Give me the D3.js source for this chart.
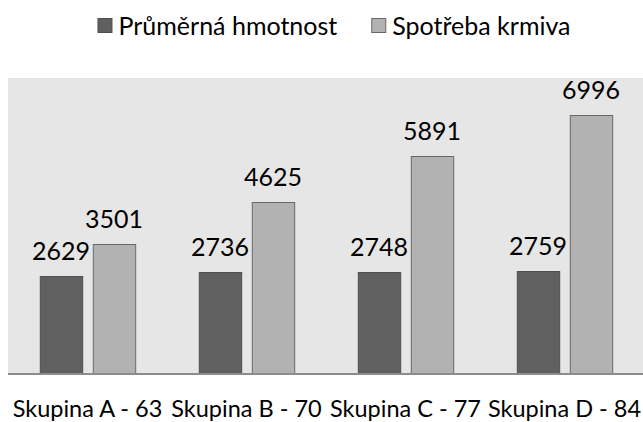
<!DOCTYPE html>
<html>
<head>
<meta charset="utf-8">
<script src="https://cdn.jsdelivr.net/npm/d3@7"></script>
<style>
  body { margin: 0; background: #fff; }
  text { font-family: Lato, "Open Sans", sans-serif; fill: #000; }
</style>
</head>
<body>
<div id="chart"></div>
<script>
const categories = ["Skupina A - 63", "Skupina B - 70", "Skupina C - 77", "Skupina D - 84"];
const seriesNames = ["Průměrná hmotnost", "Spotřeba krmiva"];
const hmotnost = [2629, 2736, 2748, 2759];
const krmivo = [3501, 4625, 5891, 6996];

const width = 643;
const height = 422;
const plot = { left: 8, right: 644, top: 78, bottom: 373 };
const colors = ["#606060", "#b2b2b2"];
const strokes = ["#4f4f4f", "#686868"];
const fontSize = 25;
const axisFontSize = 23.5;

const rows = categories.map((c, i) => ({ cat: c, values: [hmotnost[i], krmivo[i]] }));

const svg = d3.select("#chart").append("svg")
  .attr("width", width)
  .attr("height", height);

const x0 = d3.scaleBand()
  .domain(categories)
  .range([plot.left, plot.right])
  .paddingInner(0.4)
  .paddingOuter(0.2);

const x1 = d3.scaleBand()
  .domain([0, 1])
  .range([0, x0.bandwidth()])
  .paddingInner(0.2);

const y = d3.scaleLinear()
  .domain([0, 8000])
  .range([plot.bottom, plot.top]);

// plot background
svg.append("rect")
  .attr("x", plot.left)
  .attr("y", plot.top)
  .attr("width", plot.right - plot.left)
  .attr("height", plot.bottom - plot.top)
  .attr("fill", "#e6e6e6");

const group = svg.append("g")
  .selectAll("g")
  .data(rows)
  .join("g")
  .attr("transform", d => `translate(${x0(d.cat)},0)`);

group.selectAll("rect")
  .data(d => d.values.map((v, k) => ({ k, v })))
  .join("rect")
  .attr("x", d => x1(d.k) + 0.5)
  .attr("y", d => Math.round(y(d.v)) + 0.5)
  .attr("width", x1.bandwidth())
  .attr("height", d => plot.bottom - Math.round(y(d.v)))
  .attr("fill", d => colors[d.k])
  .attr("stroke", d => strokes[d.k])
  .attr("stroke-width", 1);

group.selectAll("text")
  .data(d => d.values.map((v, k) => ({ k, v })))
  .join("text")
  .attr("x", d => x1(d.k) + x1.bandwidth() / 2)
  .attr("y", d => y(d.v) - 16)
  .attr("text-anchor", "middle")
  .style("font-size", fontSize + "px")
  .text(d => d.v);

// x axis line
svg.append("line")
  .attr("x1", plot.left)
  .attr("x2", plot.right)
  .attr("y1", plot.bottom + 1)
  .attr("y2", plot.bottom + 1)
  .attr("stroke", "#8c8c8c")
  .attr("stroke-width", 2);

const xAxis = svg.append("g")
  .attr("transform", `translate(0,${plot.bottom})`)
  .call(d3.axisBottom(x0).tickSize(0).tickPadding(0));
xAxis.select(".domain").remove();
xAxis.selectAll("text")
  .attr("y", 44)
  .attr("dy", null)
  .style("font-size", axisFontSize + "px")
  .style("font-family", "Lato, sans-serif")
  .attr("fill", "#000");

// legend
const legend = svg.append("g");
let lx = 0;
seriesNames.forEach((name, k) => {
  const item = legend.append("g").attr("transform", `translate(${lx},0)`);
  item.append("rect")
    .attr("x", 0.5)
    .attr("y", 18.5)
    .attr("width", 14)
    .attr("height", 14)
    .attr("fill", colors[k])
    .attr("stroke", strokes[k]);
  const t = item.append("text")
    .attr("x", 21)
    .attr("y", 35)
    .style("font-size", fontSize + "px")
    .text(name);
  lx += 21 + t.node().getComputedTextLength() + 34;
});
const lw = lx - 34;
legend.attr("transform", `translate(${334 - lw / 2},0)`);
</script>
</body>
</html>
